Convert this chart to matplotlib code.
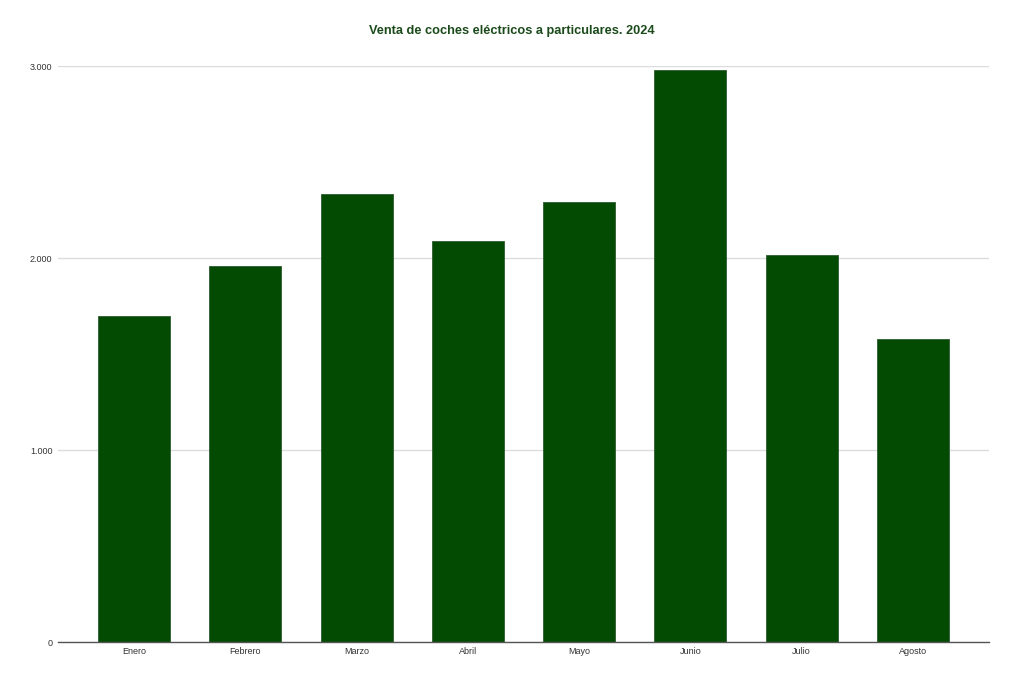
import matplotlib.pyplot as plt
from matplotlib.ticker import FuncFormatter

# Datos: ventas mensuales de coches eléctricos a particulares (2024)
meses = ["Enero", "Febrero", "Marzo", "Abril", "Mayo", "Junio", "Julio", "Agosto"]
ventas = [1700, 1960, 2335, 2090, 2292, 2980, 2018, 1580]

plt.rcParams['font.family'] = ['Liberation Sans', 'DejaVu Sans']

fig = plt.figure(figsize=(10.24, 6.83), dpi=100)
ax = fig.add_axes([58 / 1024, 41 / 683, 931 / 1024, 576 / 683])

x = range(len(meses))
ax.bar(x, ventas, width=0.647, color='#034a03', edgecolor='#2f5a2f', linewidth=0.6, zorder=3)

ax.set_xlim(-0.683, len(meses) - 1 + 0.683)
ax.set_ylim(0, 3000)
ax.set_yticks([0, 1000, 2000, 3000])
# separador de miles con punto
ax.yaxis.set_major_formatter(FuncFormatter(lambda v, p: f"{int(v):,}".replace(",", ".")))
ax.set_xticks(list(x))
ax.set_xticklabels(meses)

ax.grid(axis='y', color='#dcdcdc', linewidth=1, zorder=0)
for s in ['top', 'right', 'left']:
    ax.spines[s].set_visible(False)
ax.spines['bottom'].set_color('#555555')
ax.spines['bottom'].set_linewidth(1)
ax.spines['bottom'].set_zorder(4)

ax.tick_params(axis='both', length=0, labelsize=6.5, labelcolor='#333333')
ax.tick_params(axis='y', pad=4)
ax.tick_params(axis='x', pad=3.5)

fig.text(0.5, 1 - 31 / 683, "Venta de coches eléctricos a particulares. 2024",
         ha='center', va='center', fontsize=9.2, fontweight='bold', color='#1b4a1b')

fig.savefig("out.png", dpi=100)
